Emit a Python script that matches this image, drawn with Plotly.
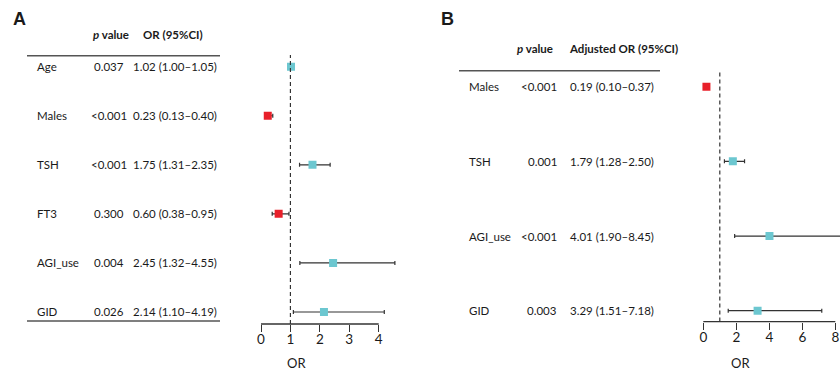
import plotly.graph_objects as go

# ---------------- data ----------------
vars_a = ["Age", "Males", "TSH", "FT3", "AGI_use", "GID"]
p_a = ["0.037", "<0.001", "<0.001", "0.300", "0.004", "0.026"]
or_a = [1.02, 0.23, 1.75, 0.60, 2.45, 2.14]
lo_a = [1.00, 0.13, 1.31, 0.38, 1.32, 1.10]
hi_a = [1.05, 0.40, 2.35, 0.95, 4.55, 4.19]

vars_b = ["Males", "TSH", "AGI_use", "GID"]
p_b = ["<0.001", "0.001", "<0.001", "0.003"]
or_b = [0.19, 1.79, 4.01, 3.29]
lo_b = [0.10, 1.28, 1.90, 1.51]
hi_b = [0.37, 2.50, 8.45, 7.18]

ticks_a = [0, 1, 2, 3, 4]
ticks_b = [0, 2, 4, 6, 8]

# ---------------- style ----------------
W, H = 840, 372
RED = "#E8202A"
TEAL = "#6CC7D0"
DARK = "#333333"
TXT = "#1a1a1a"
FONT = "Lato"


def px(x):
    return x / W


def py(y):
    return 1 - y / H


fig = go.Figure()


def add_panel(xa, ya, ors, los, his):
    n = len(ors)
    ys = list(range(n, 0, -1))
    cols = [RED if v < 1 else TEAL for v in ors]
    fig.add_trace(go.Scatter(
        x=ors, y=ys, mode="markers", xaxis=xa, yaxis=ya,
        marker=dict(size=8, opacity=0),
        error_x=dict(type="data", symmetric=False,
                     array=[h - o for h, o in zip(his, ors)],
                     arrayminus=[o - l for o, l in zip(ors, los)],
                     color=DARK, thickness=1.2, width=2),
        hoverinfo="skip", showlegend=False))
    fig.add_trace(go.Scatter(
        x=ors, y=ys, mode="markers", xaxis=xa, yaxis=ya,
        marker=dict(symbol="square", size=8, color=cols, line=dict(width=0)),
        showlegend=False))
    return ys


ys_a = add_panel("x", "y", or_a, lo_a, hi_a)
ys_b = add_panel("x2", "y2", or_b, lo_b, hi_b)

# axes geometry (pixels)
a0, aunit = 261.0, 29.425
b0, bunit = 703.3, 16.5
xa_rng = [-0.2, 4.8]
xb_rng = [-0.3, (W - b0) / bunit]
ya_rng = [0.755, 6.3]
yb_rng = [0.855, 4.3]
ya_top_px, ya_bot_px = 312 - (6.3 - 1) * 49.06, 324.0
yb_top_px, yb_bot_px = 86.7 - 0.3 * 74.67, 310.7 + 0.145 * 74.67

common_x = dict(showgrid=False, zeroline=False, showline=False, ticks="outside",
                ticklen=7, tickwidth=1.3, tickcolor=DARK, ticklabelstandoff=-4,
                tickfont=dict(family=FONT, size=13.5, color=TXT), fixedrange=True)
common_y = dict(showgrid=False, zeroline=False, showline=False, showticklabels=False,
                ticks="", fixedrange=True)

fig.update_layout(
    width=W, height=H, margin=dict(l=0, r=0, t=0, b=0),
    paper_bgcolor="white", plot_bgcolor="white",
    xaxis=dict(domain=[px(a0 + xa_rng[0] * aunit), px(a0 + xa_rng[1] * aunit)],
               range=xa_rng, tickvals=ticks_a, anchor="y", **common_x),
    yaxis=dict(domain=[py(ya_bot_px), py(ya_top_px)], range=ya_rng, anchor="x", **common_y),
    xaxis2=dict(domain=[px(b0 + xb_rng[0] * bunit), 1.0],
                range=xb_rng, tickvals=ticks_b, anchor="y2", **common_x),
    yaxis2=dict(domain=[py(yb_bot_px), py(yb_top_px)], range=yb_rng, anchor="x2", **common_y),
)

shapes = []
# axis lines
shapes.append(dict(type="line", xref="x", yref="y domain", x0=ticks_a[0], x1=ticks_a[-1],
                   y0=0, y1=0, line=dict(color=DARK, width=1.3)))
shapes.append(dict(type="line", xref="x2", yref="y2 domain", x0=ticks_b[0], x1=ticks_b[-1],
                   y0=0, y1=0, line=dict(color=DARK, width=1.3)))
# reference lines at OR = 1
shapes.append(dict(type="line", xref="x", yref="y", x0=1, x1=1, y0=ya_rng[0], y1=6.238,
                   line=dict(color=DARK, width=1.2, dash="4px,3px")))
shapes.append(dict(type="line", xref="x2", yref="y2", x0=1, x1=1, y0=yb_rng[0], y1=4.214,
                   line=dict(color=DARK, width=1.2, dash="4px,3px")))
# table rules
shapes.append(dict(type="line", xref="paper", yref="paper", x0=px(27), x1=px(220),
                   y0=py(55.7), y1=py(55.7), line=dict(color="#555", width=1.5)))
shapes.append(dict(type="line", xref="paper", yref="paper", x0=px(27), x1=px(220),
                   y0=py(321), y1=py(321), line=dict(color="#555", width=1.5)))
shapes.append(dict(type="line", xref="paper", yref="paper", x0=px(459), x1=px(660),
                   y0=py(70.7), y1=py(70.7), line=dict(color="#555", width=1.5)))
fig.update_layout(shapes=shapes)

ann = []


def txt(text, x, y, xanchor="left", size=11.5, yref="paper", color=TXT, family=FONT):
    ann.append(dict(text=text, x=x, y=y, xref="paper", yref=yref, xanchor=xanchor,
                    yanchor="middle", showarrow=False,
                    font=dict(family=family, size=size, color=color)))


# panel letters
txt("<b>A</b>", px(11), py(19), size=18, family="Liberation Sans")
txt("<b>B</b>", px(439), py(19), size=18, family="Liberation Sans")

# headers
txt("<b><i>p</i> value</b>", px(111), py(34), xanchor="center")
txt("<b>OR (95%CI)</b>", px(173), py(34), xanchor="center")
txt("<b><i>p</i> value</b>", px(555), py(48), xanchor="right")
txt("<b>Adjusted OR (95%CI)</b>", px(566.7), py(48), xanchor="left")


def fmt(o, l, h):
    return f"{o:.2f} ({l:.2f}\u2013{h:.2f})"


for v, p, o, l, h, yy in zip(vars_a, p_a, or_a, lo_a, hi_a, ys_a):
    txt(v, px(34.5), yy, yref="y")
    txt(p, px(109), yy, xanchor="center", yref="y")
    txt(fmt(o, l, h), px(131), yy, yref="y")

for v, p, o, l, h, yy in zip(vars_b, p_b, or_b, lo_b, hi_b, ys_b):
    txt(v, px(466.7), yy, yref="y2")
    txt(p, px(559.3), yy, xanchor="right", yref="y2")
    txt(fmt(o, l, h), px(567.7), yy, yref="y2")

# axis titles
txt("OR", px(296), py(363), xanchor="center", size=13)
txt("OR", px(740), py(362.7), xanchor="center", size=13)

fig.update_layout(annotations=ann)

fig.write_html("out.html", config={"displayModeBar": False},
               post_script="document.body.style.margin='0';document.body.style.overflow='hidden';")
